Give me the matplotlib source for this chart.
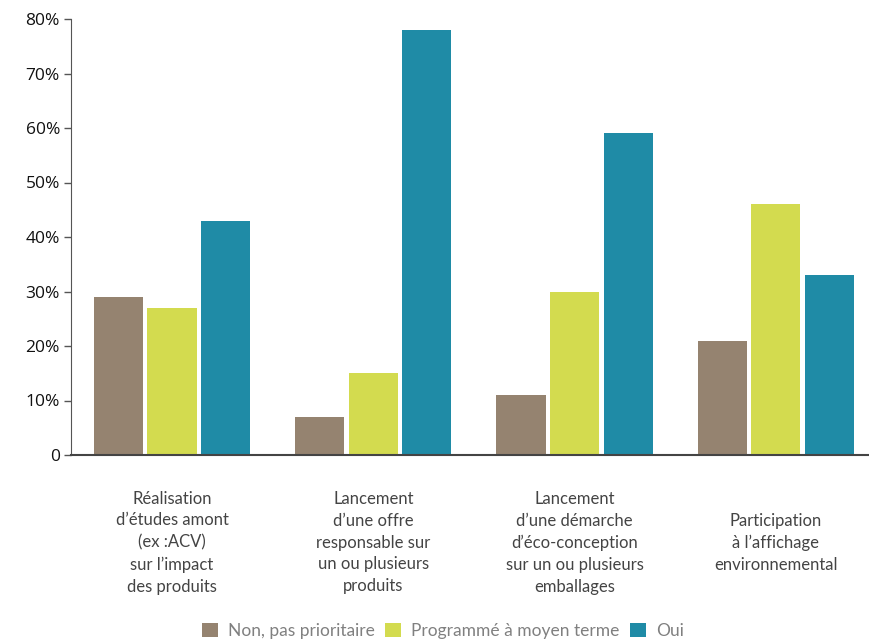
import numpy as np
import matplotlib
matplotlib.use("Agg")
from matplotlib import pyplot as plt
from matplotlib.patches import Patch

categories = [
    "Réalisation\nd’études amont\n(ex :ACV)\nsur l’impact\ndes produits",
    "Lancement\nd’une offre\nresponsable sur\nun ou plusieurs\nproduits",
    "Lancement\nd’une démarche\nd’éco-conception\nsur un ou plusieurs\nemballages",
    "Participation\nà l’affichage\nenvironnemental",
]
series_names = ["Non, pas prioritaire", "Programmé à moyen terme", "Oui"]
non_prioritaire = [29, 7, 11, 21]
moyen_terme = [27, 15, 30, 46]
oui = [43, 78, 59, 33]
yticks = [0, 10, 20, 30, 40, 50, 60, 70, 80]
yticklabels = ["0", "10%", "20%", "30%", "40%", "50%", "60%", "70%", "80%"]

colors = ["#958370", "#D3DB4F", "#1F8BA6"]

fig = plt.figure(figsize=(8.7, 6.4), dpi=100)
ax = fig.add_axes([71 / 870, 185 / 640, 1 - 71 / 870, 436 / 640])

x = np.arange(len(categories))
width = 0.244
step = 0.266
for i, (vals, col) in enumerate(zip([non_prioritaire, moyen_terme, oui], colors)):
    ax.bar(x + (i - 1) * step, vals, width=width, color=col, zorder=2)

ax.set_xlim(-0.502, 3.468)
ax.set_ylim(0, 80)
ax.set_yticks(yticks)
ax.set_yticklabels(yticklabels, fontsize=12.5, family="Open Sans", color="#111111")
ax.set_xticks([])
ax.tick_params(axis="y", direction="out", length=5, width=1, color="#555555", pad=3)

for side in ["top", "right"]:
    ax.spines[side].set_visible(False)
ax.spines["left"].set_color("#555555")
ax.spines["bottom"].set_color("#444444")
ax.spines["bottom"].set_linewidth(1.5)

for xi, label in zip(x, categories):
    ax.text(xi, -0.201, label, transform=ax.get_xaxis_transform(), ha="center", va="center",
            fontsize=12, family="Lato", color="#444444", linespacing=1.45)

handles = [Patch(facecolor=c, edgecolor="none") for c in colors]
fig.legend(handles, series_names, loc="center", bbox_to_anchor=(443 / 870, 1 - 631 / 640),
           ncol=3, frameon=False, handlelength=0.9, handleheight=0.9,
           handletextpad=0.6, columnspacing=0.6, labelcolor="#808080",
           prop={"family": "Lato", "size": 12.5})

plt.savefig("out.png", dpi=100)
plt.close()
